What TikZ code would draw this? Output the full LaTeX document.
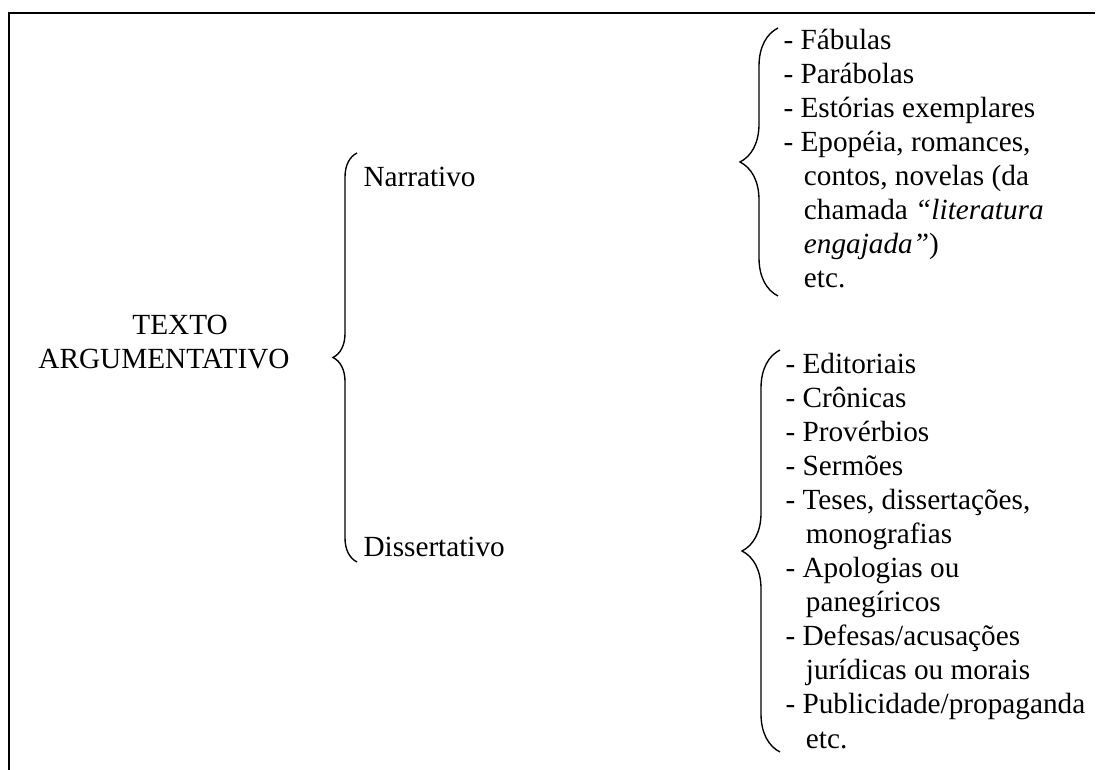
\documentclass[tikz,border=0pt]{standalone}
\usepackage{fontspec}
\setmainfont{Liberation Serif}
\usetikzlibrary{decorations.pathreplacing}

\newcommand\recuo{\hspace*{0.7em}}

\tikzset{
  item/.style={anchor=base west, inner sep=0pt, font=\fontsize{11.7}{13.6}\selectfont},
  chave/.style={decorate, decoration={brace, amplitude=#1}, line width=0.55pt},
  moldura/.style={line width=0.9pt}
}

\begin{document}
\begin{tikzpicture}[x=0.4pt, y=-0.4pt]
  \useasboundingbox (0,0) rectangle (1098,770);

  % moldura
  \coordinate (baseE) at (9,770);
  \coordinate (canto) at (9,13);
  \coordinate (topoD) at (1095,13);
  \draw[moldura] (baseE) -- (canto) -- (topoD);

  % raiz
  \node[item, anchor=center, align=center] (texto) at (164,342) {\hspace*{1.1em}TEXTO\\ARGUMENTATIVO};

  % ramos
  \node[item] (narrativo) at (363,187) {Narrativo};
  \node[item] (dissertativo) at (363,557) {Dissertativo};
  \coordinate (chA1) at (357,562);
  \coordinate (chA2) at (357,153);
  \draw[chave=9.6pt] (chA1) -- (chA2);

  % generos narrativos
  \foreach \txt [count=\i from 0] in {{- Fábulas}, {- Parábolas}, {- Estórias exemplares},
      {- Epopéia, romances,}, {\recuo contos, novelas (da},
      {\recuo chamada \textit{“literatura}}, {\recuo\textit{engajada”})}, {\recuo etc.}}
    \node[item] (narr\i) at (783,{50+34*\i}) {\txt};
  \coordinate (chB1) at (778,296);
  \coordinate (chB2) at (778,28);
  \draw[chave=15.2pt] (chB1) -- (chB2);

  % generos dissertativos
  \foreach \txt [count=\i from 0] in {{- Editoriais}, {- Crônicas}, {- Provérbios}, {- Sermões},
      {- Teses, dissertações,}, {\recuo monografias}, {- Apologias ou}, {\recuo panegíricos},
      {- Defesas/acusações}, {\recuo jurídicas ou morais}, {- Publicidade/propaganda}, {\recuo etc.}}
    \node[item] (diss\i) at (785,{374+34*\i}) {\txt};
  \coordinate (chC1) at (780,752);
  \coordinate (chC2) at (780,350);
  \draw[chave=15.2pt] (chC1) -- (chC2);
\end{tikzpicture}
\end{document}
